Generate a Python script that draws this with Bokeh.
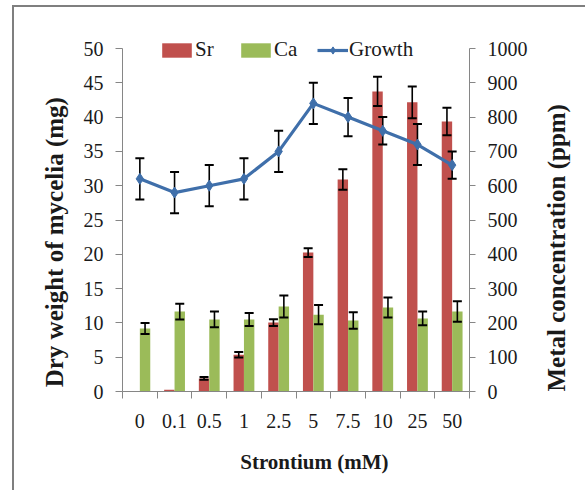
import math
from bokeh.plotting import figure
from bokeh.models import Range1d, LinearAxis, FixedTicker, Legend, LegendItem
from bokeh.embed import file_html
from bokeh.resources import INLINE

categories = ["0", "0.1", "0.5", "1", "2.5", "5", "7.5", "10", "25", "50"]
growth = [31, 29, 30, 31, 35, 42, 40, 38, 36, 33]
growth_err = [3, 3, 3, 3, 3, 3, 2.8, 2, 3, 2]
sr = [0, 5, 38, 107, 201, 405, 618, 875, 843, 787]
sr_err = [0, 0, 4, 8, 10, 13, 30, 43, 46, 40]
ca = [184, 233, 210, 210, 248, 224, 207, 245, 213, 233]
ca_err = [16, 23, 23, 19, 32, 28, 24, 29, 20, 30]
left_ticks = [0, 5, 10, 15, 20, 25, 30, 35, 40, 45, 50]
right_ticks = [0, 100, 200, 300, 400, 500, 600, 700, 800, 900, 1000]

SR_C = "#C0504D"
CA_C = "#9BBB59"
GR_C = "#3F6FAA"
AX_C = "#868686"
TXT = "#1a1a1a"
FONT = "Liberation Serif"
NB = "\u00a0"

n = len(categories)
centers = [i + 0.5 for i in range(n)]
sr_x = [i + 0.35 for i in range(n)]
ca_x = [i + 0.65 for i in range(n)]

# layout (pixels)
W, H = 573, 485
ML, MR, MT, MB = 108, 118, 23, 101
FH = H - MT - MB          # frame height
PH = 343                  # pixel height of the 0..50 axis
ytop = 50 * FH / PH
rtop = 1000 * FH / PH

p = figure(width=W, height=H, x_range=Range1d(0, n), y_range=Range1d(0, ytop),
           output_backend="svg", toolbar_location=None,
           min_border_left=ML, min_border_right=MR, min_border_top=MT,
           min_border_bottom=MB)
p.margin = (5, 0, 0, 12)
p.styles = {"border-left": "2px solid #7f7f7f", "border-top": "2px solid #7f7f7f"}
p.extra_y_ranges = {"metal": Range1d(0, rtop)}
p.outline_line_color = None
p.grid.visible = False

# x axis
xa = p.xaxis[0]
xa.ticker = FixedTicker(ticks=centers, minor_ticks=list(range(n + 1)))
xa.major_label_overrides = {c: lab for c, lab in zip(centers, categories)}
xa.major_tick_line_color = None
xa.minor_tick_out = 7
xa.minor_tick_in = 0
xa.minor_tick_line_color = AX_C
xa.axis_line_color = AX_C
xa.major_label_standoff = 15
xa.major_label_text_font = FONT
xa.major_label_text_font_size = "20px"
xa.major_label_text_color = TXT
xa.axis_label = NB * 7 + "Strontium (mM)"
xa.axis_label_standoff = 19
xa.axis_label_text_font = FONT
xa.axis_label_text_font_style = "bold"
xa.axis_label_text_font_size = "21px"
xa.axis_label_text_color = TXT

# left axis
ya = p.yaxis[0]
ya.ticker = FixedTicker(ticks=left_ticks)
ya.bounds = (0, 50)
ya.major_tick_out = 7
ya.major_tick_in = 0
ya.minor_tick_line_color = None
ya.major_tick_line_color = AX_C
ya.axis_line_color = AX_C
ya.major_label_standoff = 12
ya.major_label_text_font = FONT
ya.major_label_text_font_size = "20px"
ya.major_label_text_color = TXT
ya.axis_label = "Dry weight of mycelia (mg)" + NB * 10
ya.axis_label_standoff = 13
ya.axis_label_text_font = FONT
ya.axis_label_text_font_style = "bold"
ya.axis_label_text_font_size = "25px"
ya.axis_label_text_color = TXT

# right axis
ra = LinearAxis(y_range_name="metal", ticker=FixedTicker(ticks=right_ticks))
ra.bounds = (0, 1000)
ra.major_tick_out = 6
ra.major_tick_in = 0
ra.minor_tick_line_color = None
ra.major_tick_line_color = AX_C
ra.axis_line_color = AX_C
ra.major_label_standoff = 12
ra.major_label_text_font = FONT
ra.major_label_text_font_size = "20px"
ra.major_label_text_color = TXT
p.add_layout(ra, "right")

# right axis title (reads bottom-to-top): a label-only axis with a single tick
rt = LinearAxis(y_range_name="metal", ticker=FixedTicker(ticks=[0]))
rt.major_label_overrides = {0: "Metal concentration (ppm)"}
rt.major_label_orientation = math.pi / 2
rt.axis_line_color = None
rt.major_tick_line_color = None
rt.minor_tick_line_color = None
rt.major_tick_out = 0
rt.major_label_standoff = 26
rt.major_label_text_font = FONT
rt.major_label_text_font_style = "bold"
rt.major_label_text_font_size = "25px"
rt.major_label_text_color = TXT
p.add_layout(rt, "right")

# bars
bw = 0.3
r_sr = p.vbar(x=sr_x, top=sr, width=bw, bottom=0, fill_color=SR_C, line_color=None,
              y_range_name="metal")
r_ca = p.vbar(x=ca_x, top=ca, width=bw, bottom=0, fill_color=CA_C, line_color=None,
              y_range_name="metal")

def errbars(xs, ys, es, yr):
    ex = [x for x, e in zip(xs, es) if e > 0]
    lo = [y - e for y, e in zip(ys, es) if e > 0]
    hi = [y + e for y, e in zip(ys, es) if e > 0]
    kw = {} if yr is None else {"y_range_name": yr}
    p.segment(x0=ex, x1=ex, y0=lo, y1=hi, line_color="black", line_width=1.6, **kw)
    p.scatter(x=ex + ex, y=lo + hi, marker="dash", size=9, line_color="black",
              line_width=2, **kw)

errbars(sr_x, sr, sr_err, "metal")
errbars(ca_x, ca, ca_err, "metal")
errbars(centers, growth, growth_err, None)

r_line = p.line(x=centers, y=growth, line_color=GR_C, line_width=3.2)
r_pts = p.scatter(x=centers, y=growth, marker="diamond", size=11, fill_color=GR_C,
                  line_color=GR_C)

common = dict(orientation="horizontal", background_fill_alpha=0, border_line_color=None,
              padding=0, margin=0, label_text_font=FONT, label_text_font_size="21px",
              label_text_color=TXT)
leg1 = Legend(items=[LegendItem(label="Sr", renderers=[r_sr]),
                     LegendItem(label="Ca", renderers=[r_ca])],
              location=(36, 329), spacing=22, label_standoff=0,
              glyph_width=37, glyph_height=18, **common)
leg2 = Legend(items=[LegendItem(label="Growth", renderers=[r_line, r_pts])],
              location=(195, 329), label_standoff=1,
              glyph_width=31, glyph_height=18, **common)
p.add_layout(leg1, "center")
p.add_layout(leg2, "center")

open("out.html", "w").write(file_html(p, INLINE))
